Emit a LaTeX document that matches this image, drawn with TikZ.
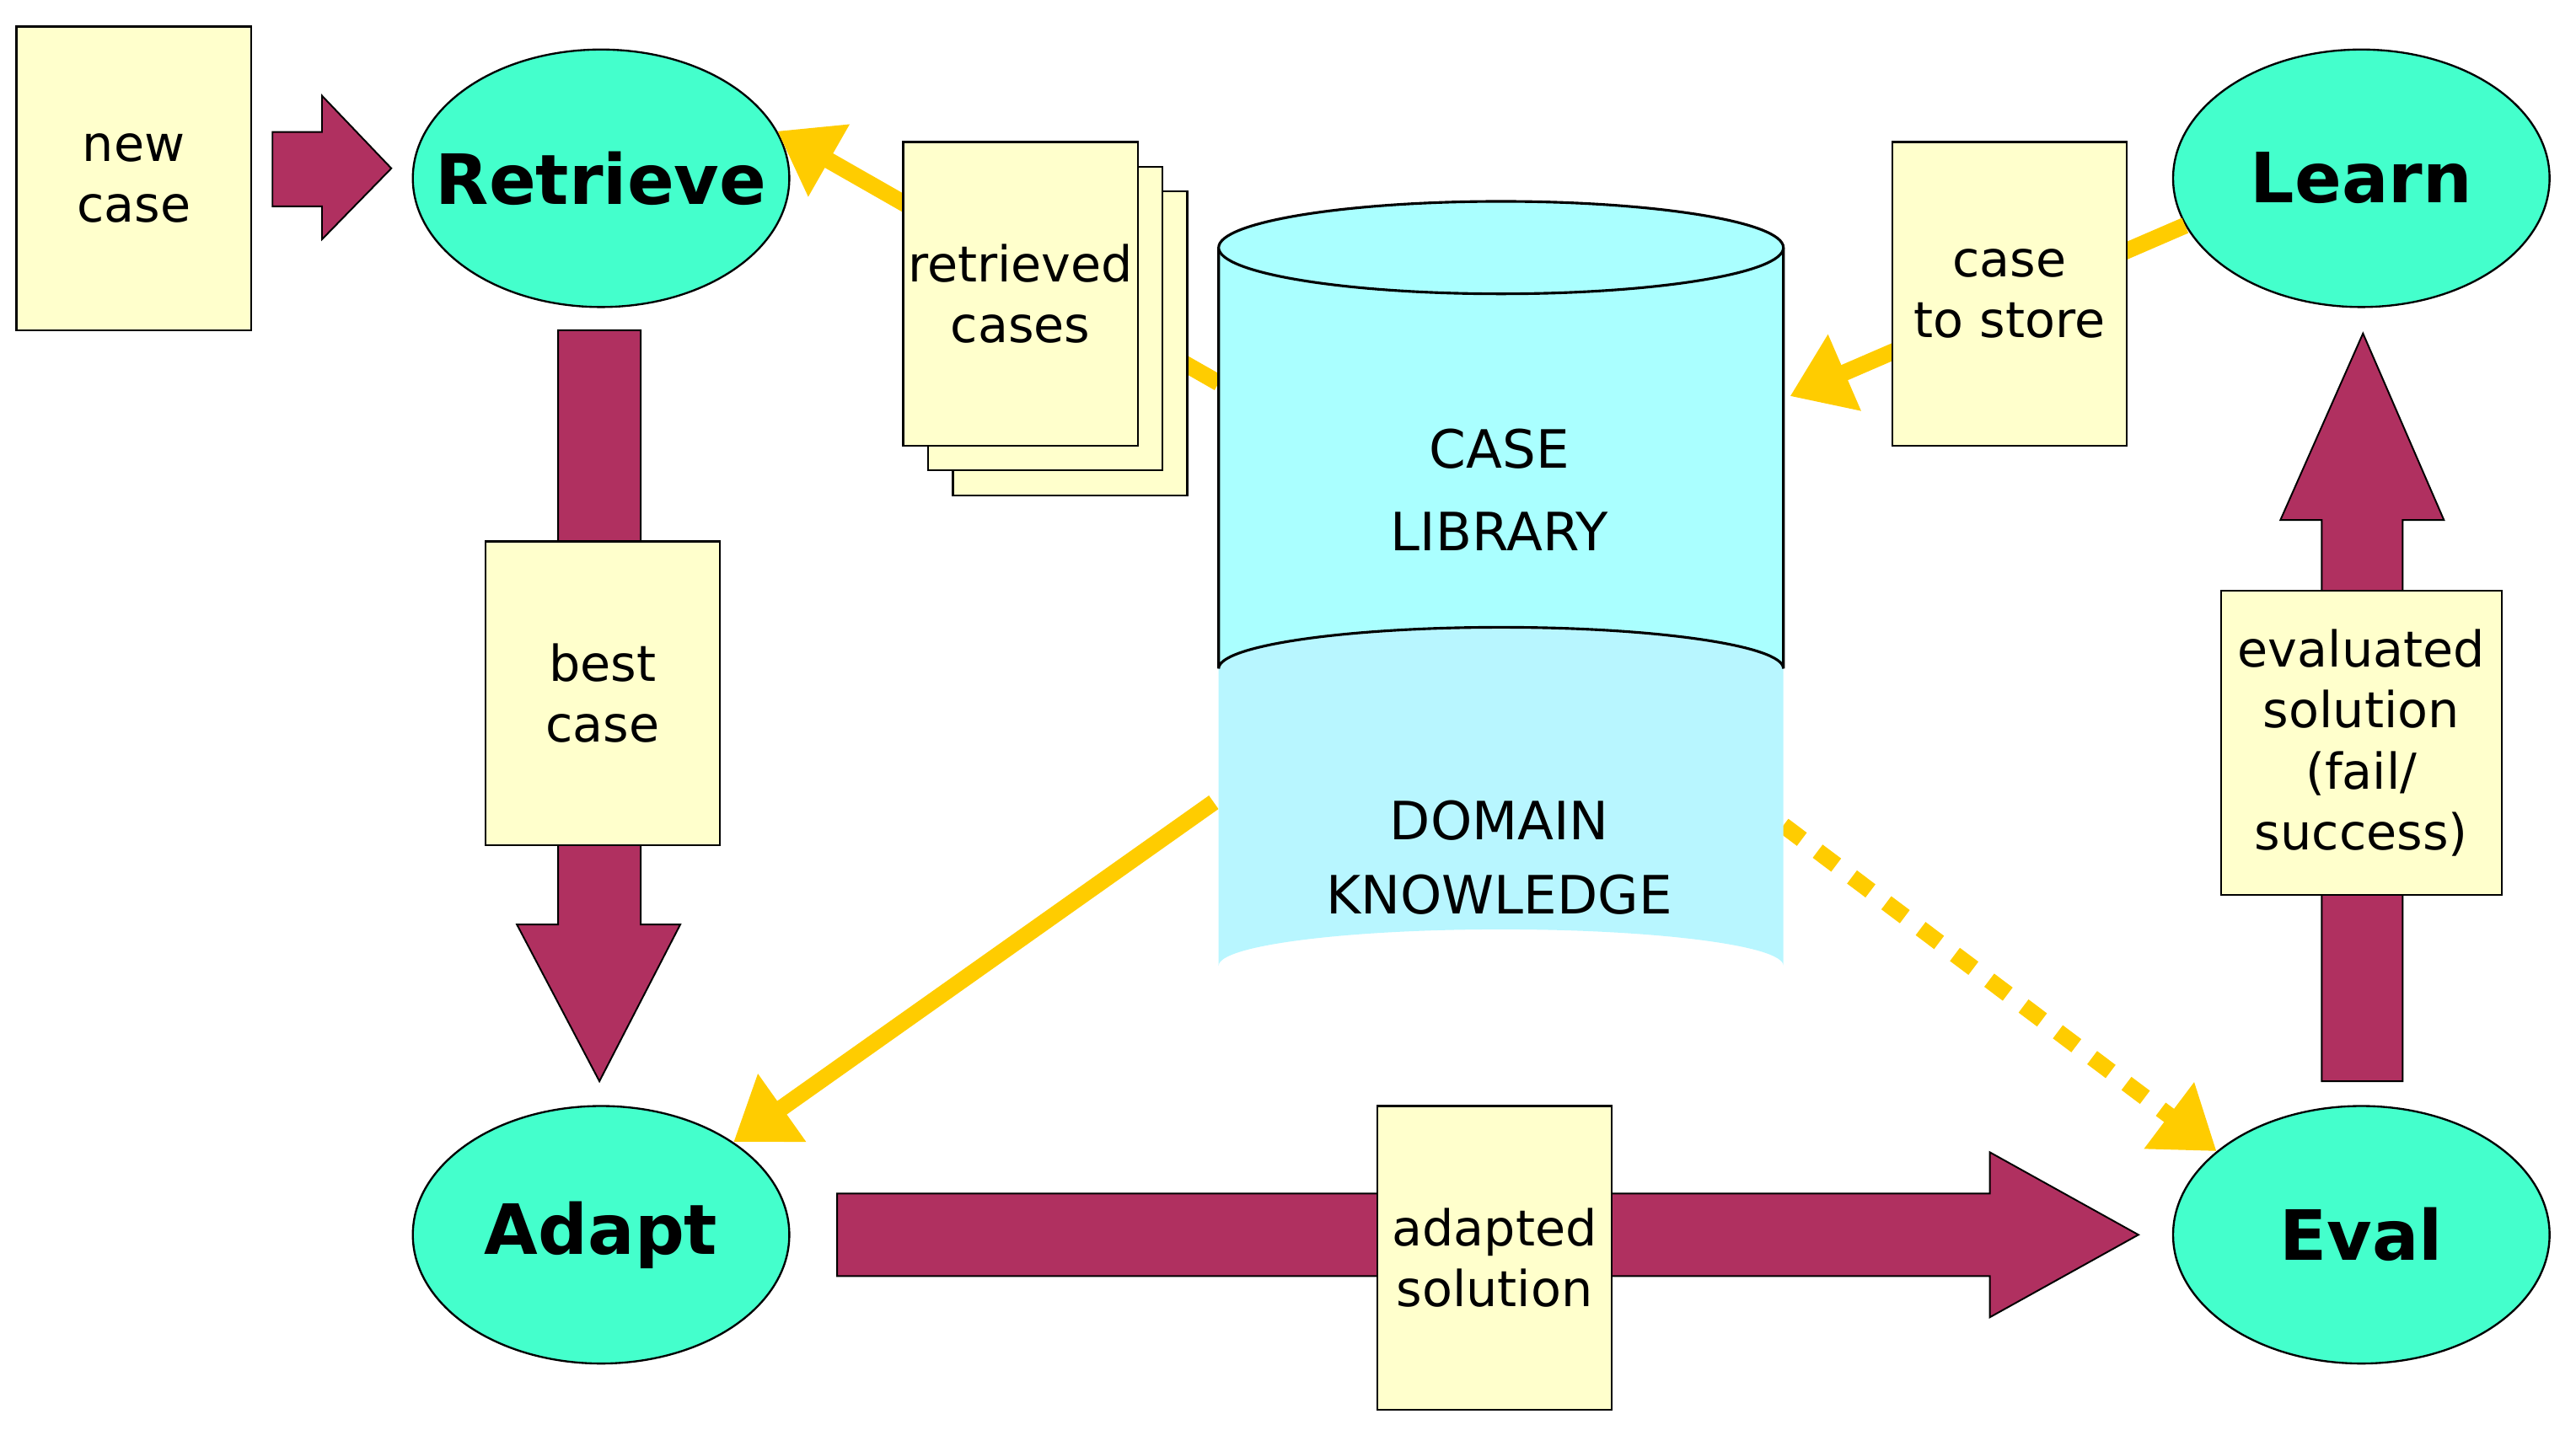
\documentclass[tikz,border=0pt]{standalone}
\usepackage{fontspec}
\setmainfont{DejaVu Sans}
\usetikzlibrary{shapes.geometric,arrows.meta}
\definecolor{note}{HTML}{FFFFCC}
\definecolor{aqua}{HTML}{44FFCC}
\definecolor{mag}{HTML}{B03060}
\definecolor{gold}{HTML}{FFCC00}
\definecolor{cyl}{HTML}{AAFFFF}
\definecolor{cyl2}{HTML}{B8F6FF}
\begin{document}
\begin{tikzpicture}[x=0.5pt,y=-0.5pt,
  note/.style={draw=black,fill=note,line width=0.6pt,minimum width=71pt,minimum height=92pt,align=center,font=\fontsize{15}{18.5}\selectfont,inner sep=0pt},
  phase/.style={ellipse,draw=black,fill=aqua,line width=0.6pt,minimum width=114pt,minimum height=78pt,inner sep=0pt,label={[font=\fontsize{21}{24}\selectfont\bfseries]center:#1}},
  fat/.style={draw=black,fill=mag,line width=0.5pt},
  ylw/.style={draw=gold,line width=5pt,-{Triangle[length=18pt,width=24pt]}},
  cyltxt/.style={font=\fontsize{16}{18}\selectfont}]
\useasboundingbox (0,0) rectangle (1560,866);
\coordinate (cylL) at (738,232);
\coordinate (cylR) at (1084,240);
\coordinate (dkL) at (735,486);
\coordinate (dkR) at (1080,500);
\node[phase=Retrieve] (retrieve) at (364,108) {};
\node[phase=Learn] (learn) at (1430,108) {};
\node[phase=Adapt] (adapt) at (364,748) {};
\node[phase=Eval] (eval) at (1430,748) {};
\draw[ylw] (cylL) -- (retrieve.15);
\draw[ylw] (learn.195) -- (cylR);
\draw[ylw] (dkL) -- (adapt.35);
\draw[ylw,dash pattern=on 7pt off 6pt] (dkR) -- (eval.150);
\fill[cyl2] (738,380) -- (738,585) arc[start angle=180,end angle=360,x radius=171,y radius=22] -- (1080,380) -- cycle;
\fill[cyl] (738,150) -- (738,405) arc[start angle=180,end angle=360,x radius=171,y radius=25] -- (1080,150) -- cycle;
\draw[line width=0.8pt] (738,150) -- (738,405) arc[start angle=180,end angle=360,x radius=171,y radius=25] -- (1080,150);
\draw[line width=0.8pt,fill=cyl] (909,150) ellipse[x radius=171,y radius=28];
\node[cyltxt] (cl1) at (908,272) {CASE};
\node[cyltxt] (cl2) at (908,322) {LIBRARY};
\node[cyltxt] (dk1) at (908,497) {DOMAIN};
\node[cyltxt] (dk2) at (908,542) {KNOWLEDGE};
\node[note] (newcase) at (81,108) {new\\case};
\node[note] (r3) at (648,208) {};
\node[note] (r2) at (633,193) {};
\node[note] (retrieved) at (618,178) {retrieved\\cases};
\node[note] (store) at (1217,178) {case\\to store};
\draw[fat] (165,80) -- (195,80) -- (195,58) -- (237,102) -- (195,145) -- (195,125) -- (165,125) -- cycle;
\draw[fat] (338,200) -- (388,200) -- (388,560) -- (412,560) -- (363,655) -- (313,560) -- (338,560) -- cycle;
\draw[fat] (507,723) -- (1205,723) -- (1205,698) -- (1295,748) -- (1205,798) -- (1205,773) -- (507,773) -- cycle;
\draw[fat] (1406,655) -- (1406,315) -- (1381,315) -- (1431,202) -- (1480,315) -- (1455,315) -- (1455,655) -- cycle;
\node[note] (best) at (365,420) {best\\case};
\node[note] (adapted) at (905,762) {adapted\\solution};
\node[note,minimum width=85pt] (evaluated) at (1430,450) {evaluated\\solution\\(fail/\\success)};
\end{tikzpicture}
\end{document}
